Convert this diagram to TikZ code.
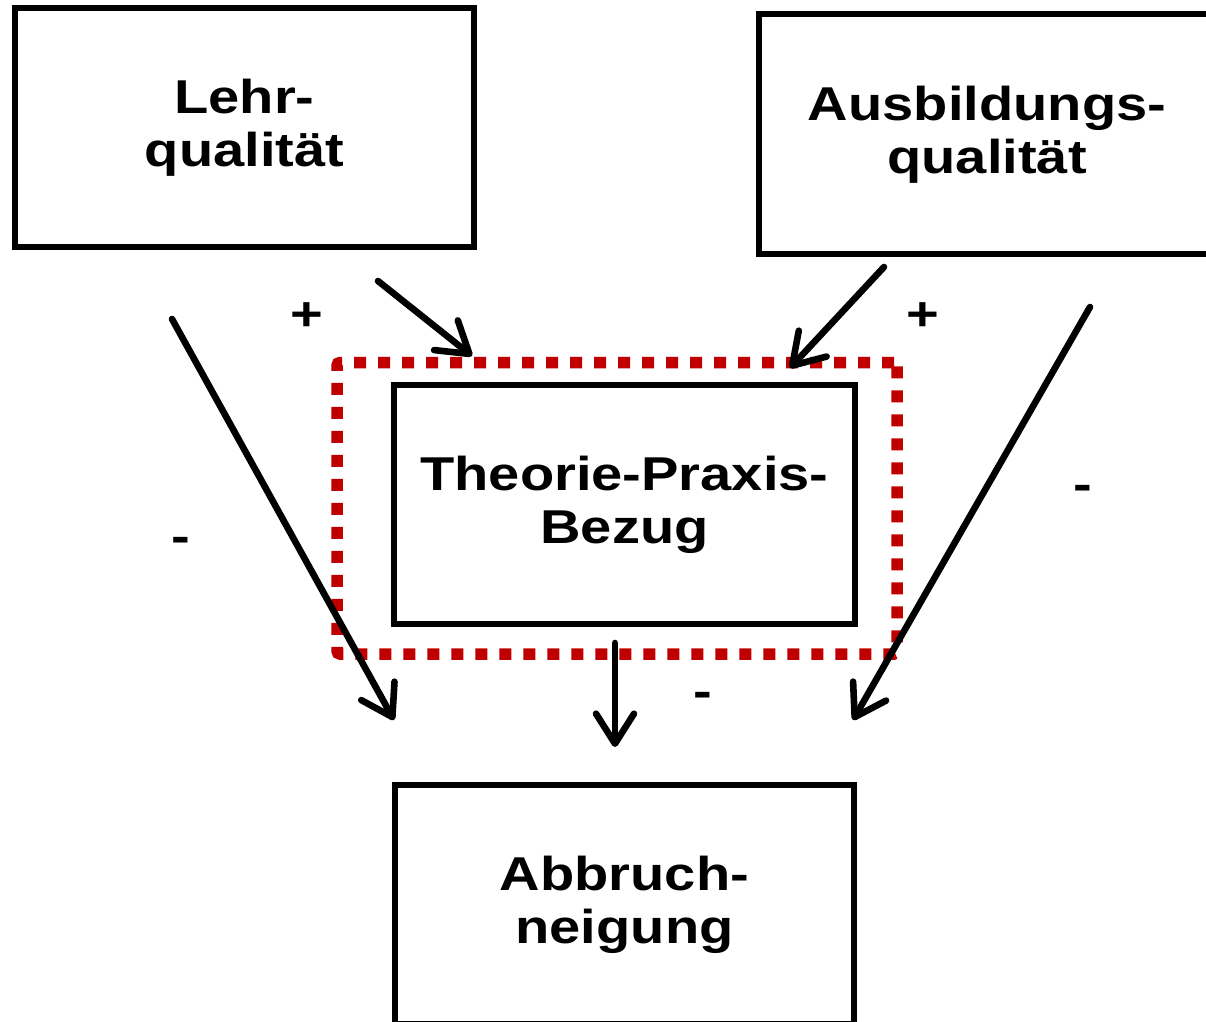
\documentclass[tikz,border=0pt]{standalone}
\usepackage{fontspec}
\newfontfamily\dfont{Liberation Sans}[FakeStretch=1.18]
\usetikzlibrary{arrows.meta}
\definecolor{dred}{HTML}{C00000}
\begin{document}
\begin{tikzpicture}[x=0.5pt,y=-0.5pt,
  every node/.style={font=\dfont\bfseries\fontsize{23.75pt}{26.5pt}\selectfont, align=center, inner sep=0pt, outer sep=0pt},
  bigbox/.style={draw=black, line width=3pt, minimum width=229.5pt, minimum height=119.5pt},
  grpbox/.style={draw=dred, line width=5.75pt, dash pattern=on 6pt off 6pt, rounded corners=1.5pt, minimum width=280pt, minimum height=145.75pt},
  arr/.style={draw=black, line width=3.3pt, line cap=round, -{Straight Barb[length=15pt,width=19pt,round]}},
  lbl/.style={}
]
\useasboundingbox (0,0) rectangle (1206,1022);
\fill[white] (0,0) rectangle (1206,1022);

\node[grpbox] (grp) at (617,508.25) {};

\node[bigbox] (lehr) at (244.5,127.5) {Lehr-\\qualität};
\node[bigbox, minimum width=228pt, minimum height=119.75pt] (ausb) at (987,134.25) {Ausbildungs-\\qualität};
\node[bigbox, minimum width=230.5pt] (theo) at (624.5,504.5) {Theorie-Praxis-\\Bezug};
\node[bigbox] (abb) at (624.5,904.5) {Abbruch-\\neigung};

\coordinate (l1s) at (378,281);
\coordinate (l1e) at (472,356);
\coordinate (a1s) at (884,267);
\coordinate (a1e) at (790,368);
\coordinate (l2s) at (172,319);
\coordinate (l2e) at (394,720);
\coordinate (a2s) at (1090,307);
\coordinate (a2e) at (853,720);
\coordinate (t1s) at (615,643);
\coordinate (t1e) at (615,747);

\draw[arr] (l1s) -- (l1e);
\draw[arr] (a1s) -- (a1e);
\draw[arr] (l2s) -- (l2e);
\draw[arr] (a2s) -- (a2e);
\draw[arr] (t1s) -- (t1e);

\node[lbl] (p1) at (307,317) {+};
\node[lbl] (p2) at (923,317) {+};
\node[lbl] (m1) at (181,545) {-};
\node[lbl] (m2) at (1083,493) {-};
\node[lbl] (m3) at (703,700) {-};
\end{tikzpicture}
\end{document}
